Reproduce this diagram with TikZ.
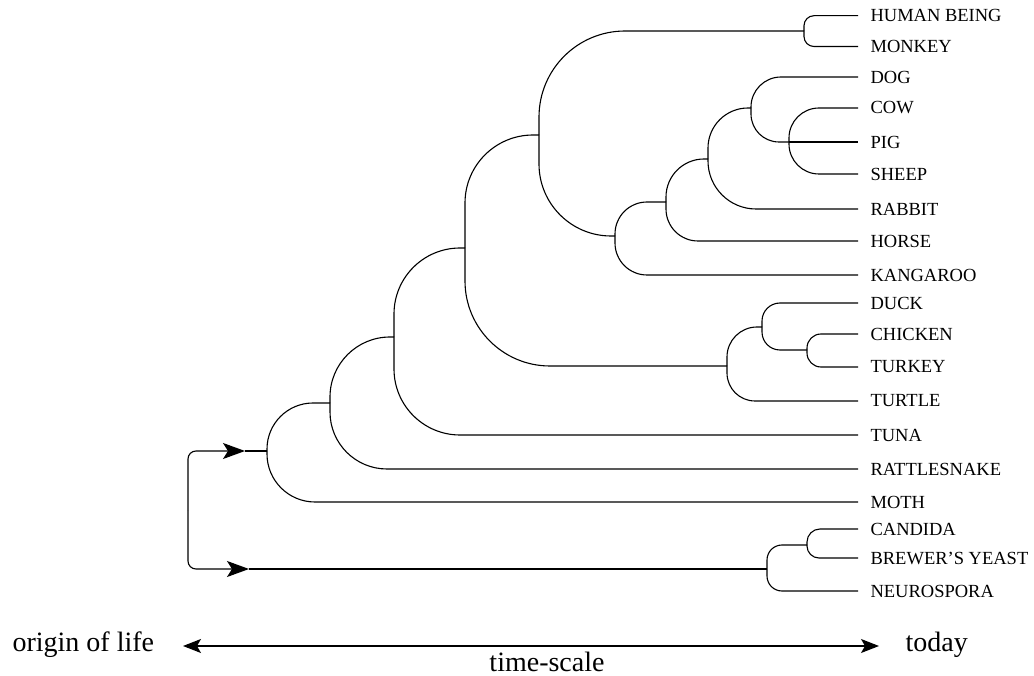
\documentclass[tikz,border=0pt]{standalone}
\usepackage{fontspec}
\setmainfont{Liberation Serif}
\usetikzlibrary{arrows.meta}
\begin{document}
\begin{tikzpicture}[x=1pt,y=-1pt,line width=1.1pt,
  leaf/.style={anchor=west,inner xsep=12pt,inner ysep=0pt,font=\fontsize{18.5}{20}\selectfont},
  big/.style={anchor=base west,inner sep=0pt,font=\fontsize{28}{32}\selectfont},
  tip/.style={-{Stealth[length=22pt,width=16pt,inset=5pt]}},
  stip/.style={{Stealth[length=18pt,width=14pt,inset=4pt]}-{Stealth[length=18pt,width=14pt,inset=4pt]}}]
\useasboundingbox (0,0) rectangle (1034,676);
% leaves
\node[leaf] (human) at (858,15.7) {HUMAN BEING};
\node[leaf] (monkey) at (858,46.5) {MONKEY};
\node[leaf] (dog) at (858,77) {DOG};
\node[leaf] (cow) at (858,108) {COW};
\node[leaf] (pig) at (858,142) {PIG};
\node[leaf] (sheep) at (858,174) {SHEEP};
\node[leaf] (rabbit) at (858,209) {RABBIT};
\node[leaf] (horse) at (858,241) {HORSE};
\node[leaf] (kangaroo) at (858,275) {KANGAROO};
\node[leaf] (duck) at (858,303) {DUCK};
\node[leaf] (chicken) at (858,334) {CHICKEN};
\node[leaf] (turkey) at (858,367) {TURKEY};
\node[leaf] (turtle) at (858,401) {TURTLE};
\node[leaf] (tuna) at (858,435) {TUNA};
\node[leaf] (rattle) at (858,469) {RATTLESNAKE};
\node[leaf] (moth) at (858,502) {MOTH};
\node[leaf] (candida) at (858,529) {CANDIDA};
\node[leaf] (brewer) at (858,558) {BREWER'S YEAST};
\node[leaf] (neuro) at (858,591) {NEUROSPORA};
% internal nodes
\coordinate (hm) at (804,31);
\coordinate (cps) at (789,142);
\coordinate (dcps) at (751,108);
\coordinate (dr) at (708,159);
\coordinate (drh) at (666,202);
\coordinate (drhk) at (615,236);
\coordinate (mam) at (539,135);
\coordinate (ct) at (807,350);
\coordinate (dct) at (762,327);
\coordinate (bird) at (727,366);
\coordinate (amn) at (465,248);
\coordinate (vert) at (394,337);
\coordinate (rs) at (330,403);
\coordinate (anim) at (267,451);
\coordinate (cb) at (807,545);
\coordinate (fun) at (767,569);
\coordinate (root) at (188,510);
\coordinate (tipA) at (245,451);
\coordinate (tipF) at (249,569);
% connectors
\draw[rounded corners=10] (hm) |- (human.west);
\draw[rounded corners=10] (hm) |- (monkey.west);
\draw[rounded corners=30] (cps) |- (cow.west);
\draw (cps) -- (pig.west);
\draw[rounded corners=30] (cps) |- (sheep.west);
\draw[rounded corners=30] (dcps) |- (dog.west);
\draw[rounded corners=28] (dcps) |- (cps);
\draw[rounded corners=40] (dr) |- (dcps);
\draw[rounded corners=48] (dr) |- (rabbit.west);
\draw[rounded corners=38] (drh) |- (dr);
\draw[rounded corners=32] (drh) |- (horse.west);
\draw[rounded corners=32] (drhk) |- (drh);
\draw[rounded corners=32] (drhk) |- (kangaroo.west);
\draw[rounded corners=86] (mam) |- (hm);
\draw[rounded corners=72] (mam) |- (drhk);
\draw[rounded corners=14] (ct) |- (chicken.west);
\draw[rounded corners=14] (ct) |- (turkey.west);
\draw[rounded corners=18] (dct) |- (duck.west);
\draw[rounded corners=18] (dct) |- (ct);
\draw[rounded corners=30] (bird) |- (dct);
\draw[rounded corners=28] (bird) |- (turtle.west);
\draw[rounded corners=68] (amn) |- (mam);
\draw[rounded corners=85] (amn) |- (bird);
\draw[rounded corners=66] (vert) |- (amn);
\draw[rounded corners=66] (vert) |- (tuna.west);
\draw[rounded corners=60] (rs) |- (vert);
\draw[rounded corners=57] (rs) |- (rattle.west);
\draw[rounded corners=46] (anim) |- (rs);
\draw[rounded corners=48] (anim) |- (moth.west);
\draw[rounded corners=13] (cb) |- (candida.west);
\draw[rounded corners=12] (cb) |- (brewer.west);
\draw[rounded corners=15] (fun) |- (cb);
\draw[rounded corners=15] (fun) |- (neuro.west);
\draw[rounded corners=8,tip] (root) |- (tipA);
\draw (tipA) -- (anim);
\draw[rounded corners=8,tip] (root) |- (tipF);
\draw (tipF) -- (fun);
% time scale
\node[big] (origin) at (12,651) {origin of life};
\node[big] (today) at (905,651) {today};
\coordinate (tsL) at (183,646);
\coordinate (tsR) at (879,646);
\draw[stip] (tsL) -- (tsR);
\node[big,anchor=base] (ts) at (547,671) {time-scale};
\end{tikzpicture}
\end{document}
